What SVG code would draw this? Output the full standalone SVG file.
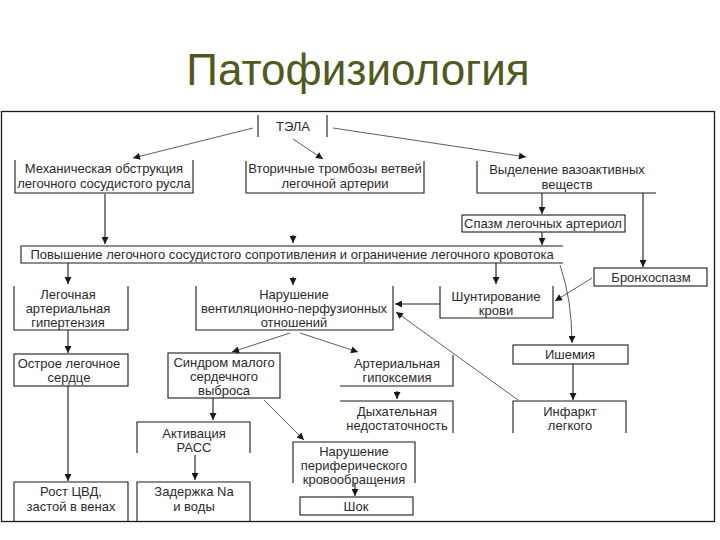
<svg xmlns="http://www.w3.org/2000/svg" width="720" height="540" viewBox="0 0 720 540">
<style>
  .t{font-family:"Liberation Sans",Arial,sans-serif;font-size:13px;fill:#2b2b2b;text-anchor:middle}
  .b{fill:none;stroke:#1a1a1a;stroke-width:1.1}
  .c{fill:none;stroke:#1a1a1a;stroke-width:1.1;marker-end:url(#ah)}
  .d{fill:none;stroke:#333;stroke-width:0.8;marker-end:url(#ah)}
  .title{font-family:"Liberation Sans",Arial,sans-serif;font-size:44px;fill:#4f5a1c;text-anchor:middle}
</style>
<defs>
  <marker id="ah" viewBox="0 0 10 10" refX="10" refY="5" markerWidth="8" markerHeight="7" orient="auto" markerUnits="userSpaceOnUse">
    <path d="M0,0 L10,5 L0,10 z" fill="#1a1a1a"/>
  </marker>
</defs>
<rect width="720" height="540" fill="#fff"/>
<text class="title" x="358" y="85">Патофизиология</text>
<rect x="1.5" y="111.5" width="713" height="410" fill="none" stroke="#1a1a1a" stroke-width="1.3"/>

<g id="connectors">
  <path class="d" d="M253,128 L133,158"/>
  <path class="d" d="M293,139 L323,159"/>
  <path class="d" d="M333,128 L526,157"/>
  <path class="c" d="M105,194 L105,244"/>
  <path class="c" d="M293,235 L293,243"/>
  <path class="c" d="M542,193 L542,214"/>
  <path class="c" d="M643,193 L643,267"/>
  <path class="c" d="M542,232 L542,245"/>
  <path class="c" d="M68,263 L68,284"/>
  <path class="c" d="M293,277 L293,285"/>
  <path class="c" d="M496,263 L496,284"/>
  <path class="d" d="M560,265 Q572,300 572,343"/>
  <path class="d" d="M592,278 L555,301"/>
  <path class="c" d="M440,304 L395,304"/>
  <path class="d" d="M518,400 L396,312"/>
  <path class="d" d="M290,333 L232,352"/>
  <path class="d" d="M300,333 L358,352"/>
  <path class="c" d="M68,330 L68,353"/>
  <path class="c" d="M573,364 L573,400"/>
  <path class="c" d="M397,391 L397,399"/>
  <path class="c" d="M213,398 L213,420"/>
  <path class="d" d="M264,400 L304,440"/>
  <path class="c" d="M68,386 L68,481"/>
  <path class="c" d="M195,455 L195,480"/>
  <path class="c" d="M355,483 L355,496"/>
</g>

<g id="tela">
  <path class="b" d="M258,115 V137 M327,115 V137"/>
  <text class="t" x="293" y="131">ТЭЛА</text>
</g>
<g id="mech">
  <path class="b" d="M15,160 V193 H193 V160"/>
  <text class="t" x="104" y="173">Механическая обструкция</text>
  <text class="t" x="104" y="188">легочного сосудистого русла</text>
</g>
<g id="vtor">
  <path class="b" d="M246,161 V193 H424 V161"/>
  <text class="t" x="335" y="173">Вторичные тромбозы ветвей</text>
  <text class="t" x="335" y="188">легочной артерии</text>
</g>
<g id="vydel">
  <path class="b" d="M477,161 V193 H656"/>
  <text class="t" x="567" y="174">Выделение вазоактивных</text>
  <text class="t" x="567" y="189">веществ</text>
</g>
<g id="spazm">
  <rect class="b" x="462" y="215" width="163" height="17"/>
  <text class="t" x="543" y="228">Спазм легочных артериол</text>
</g>
<g id="bar">
  <path class="b" d="M563,246 H21 V263 H563"/>
  <text class="t" x="292" y="259">Повышение легочного сосудистого сопротивления и ограничение легочного кровотока</text>
</g>
<g id="bronh">
  <rect class="b" x="594" y="268" width="113" height="18"/>
  <text class="t" x="651" y="282">Бронхоспазм</text>
</g>
<g id="lah">
  <path class="b" d="M14,286 V330 H128 V286"/>
  <text class="t" x="68" y="299">Легочная</text>
  <text class="t" x="68" y="313">артериальная</text>
  <text class="t" x="68" y="327">гипертензия</text>
</g>
<g id="narvent">
  <path class="b" d="M196,286 V330 H393 V286"/>
  <text class="t" x="294" y="299">Нарушение</text>
  <text class="t" x="294" y="313">вентиляционно-перфузионных</text>
  <text class="t" x="294" y="327">отношений</text>
</g>
<g id="shunt">
  <path class="b" d="M440,286 V318 H553 V286"/>
  <text class="t" x="496" y="301">Шунтирование</text>
  <text class="t" x="496" y="315">крови</text>
</g>
<g id="ishem">
  <rect class="b" x="513" y="345" width="115" height="19"/>
  <text class="t" x="570" y="359">Ишемия</text>
</g>
<g id="ostroe">
  <rect class="b" x="14" y="354" width="114" height="32"/>
  <text class="t" x="69" y="368">Острое легочное</text>
  <text class="t" x="69" y="382">сердце</text>
</g>
<g id="sindrom">
  <rect class="b" x="168" y="353" width="112" height="45"/>
  <text class="t" x="224" y="367">Синдром малого</text>
  <text class="t" x="224" y="381">сердечного</text>
  <text class="t" x="224" y="395">выброса</text>
</g>
<g id="gipox">
  <path class="b" d="M340,386 H453 V355"/>
  <text class="t" x="397" y="368">Артериальная</text>
  <text class="t" x="397" y="382">гипоксемия</text>
</g>
<g id="dyh">
  <path class="b" d="M340,401 H453 V433"/>
  <text class="t" x="397" y="416">Дыхательная</text>
  <text class="t" x="397" y="430">недостаточность</text>
</g>
<g id="infarkt">
  <path class="b" d="M513,433 V401 H626 V433"/>
  <text class="t" x="570" y="416">Инфаркт</text>
  <text class="t" x="570" y="430">легкого</text>
</g>
<g id="aktiv">
  <path class="b" d="M137,453 V422 H250 V453"/>
  <text class="t" x="194" y="438">Активация</text>
  <text class="t" x="194" y="452">РАСС</text>
</g>
<g id="narper">
  <path class="b" d="M293,483 V442 H415 V483"/>
  <text class="t" x="354" y="456">Нарушение</text>
  <text class="t" x="354" y="470">периферического</text>
  <text class="t" x="354" y="484">кровообращения</text>
</g>
<g id="rost">
  <path class="b" d="M14,521 V482 H128 V521"/>
  <text class="t" x="71" y="496">Рост ЦВД,</text>
  <text class="t" x="71" y="511">застой в венах</text>
</g>
<g id="zader">
  <path class="b" d="M137,521 V482 H250 V521"/>
  <text class="t" x="194" y="496">Задержка Na</text>
  <text class="t" x="194" y="511">и воды</text>
</g>
<g id="shok">
  <rect class="b" x="300" y="497" width="113" height="18"/>
  <text class="t" x="356" y="511">Шок</text>
</g>
</svg>
